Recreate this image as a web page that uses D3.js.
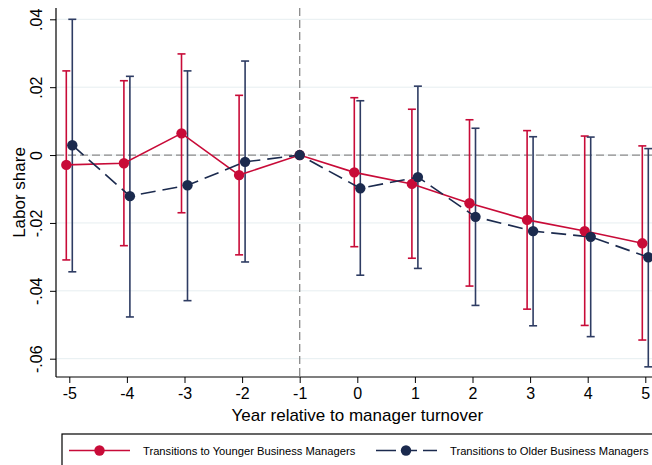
<!DOCTYPE html>
<html>
<head>
<meta charset="utf-8">
<script src="https://cdn.jsdelivr.net/npm/d3@7"></script>
<style>
  html, body { margin: 0; padding: 0; background: #fff; }
  svg { display: block; font-family: "Liberation Sans", Arial, Helvetica, sans-serif; }
</style>
</head>
<body>
<svg id="chart" width="652" height="465"></svg>
<script>
// ---- data ----
const years = [-5, -4, -3, -2, -1, 0, 1, 2, 3, 4, 5];
const youngerEst = [-0.0029, -0.0024, 0.0064, -0.0059, 0, -0.0051, -0.0085, -0.0142, -0.0191, -0.0224, -0.0260];
const youngerLo  = [-0.0309, -0.0267, -0.0170, -0.0294, null, -0.0270, -0.0304, -0.0386, -0.0454, -0.0502, -0.0545];
const youngerHi  = [0.0248, 0.0219, 0.0298, 0.0176, null, 0.0169, 0.0135, 0.0104, 0.0072, 0.0056, 0.0027];
const olderEst = [0.0029, -0.0121, -0.0089, -0.0020, 0, -0.0098, -0.0065, -0.0182, -0.0224, -0.0241, -0.0301];
const olderLo  = [-0.0344, -0.0477, -0.0429, -0.0315, null, -0.0354, -0.0334, -0.0443, -0.0503, -0.0535, -0.0624];
const olderHi  = [0.0400, 0.0232, 0.0248, 0.0277, null, 0.0160, 0.0203, 0.0079, 0.0054, 0.0053, 0.0019];
const yTickValues = [-0.06, -0.04, -0.02, 0, 0.02, 0.04];
const yTickLabels = ["-.06", "-.04", "-.02", "0", ".02", ".04"];
const xTickValues = years;
const seriesNames = ["Transitions to Younger Business Managers", "Transitions to Older Business Managers"];
const xTitle = "Year relative to manager turnover";
const yTitle = "Labor share";

// ---- layout ----
const svg = d3.select("#chart");
const W = 652, H = 465;
const axisX = 56, axisY = 377, plotTop = 8;
const x = d3.scaleLinear().domain([-5, 5]).range([69.3, 645.3]);
const y = d3.scaleLinear().domain([-0.06, 0.04]).range([358.7, 19.3]);
const RED = "#c80b38", NAVY = "#1b2a4e", NAVY_BAR = "#2e3c63";
const offset = 0.052;

// gridlines
svg.append("g").selectAll("line").data(yTickValues).join("line")
  .attr("x1", axisX).attr("x2", W)
  .attr("y1", d => y(d)).attr("y2", d => y(d))
  .attr("stroke", "#e6eef0").attr("stroke-width", 1);

// reference lines
svg.append("line").attr("x1", axisX).attr("x2", W).attr("y1", y(0)).attr("y2", y(0))
  .attr("stroke", "#8a8a8a").attr("stroke-width", 1.3).attr("stroke-dasharray", "8,4");
svg.append("line").attr("x1", x(-1)).attr("x2", x(-1)).attr("y1", plotTop).attr("y2", axisY)
  .attr("stroke", "#8a8a8a").attr("stroke-width", 1.3).attr("stroke-dasharray", "8,4");

// axes
const xAxis = d3.axisBottom(x).tickValues(xTickValues).tickSize(6).tickPadding(5).tickFormat(d3.format("d"));
const gx = svg.append("g").attr("transform", `translate(0,${axisY})`).call(xAxis);
gx.select(".domain").remove();
gx.append("line").attr("x1", axisX).attr("x2", W).attr("stroke", "#000").attr("stroke-width", 1.2);
gx.selectAll(".tick line").attr("stroke", "#000").attr("stroke-width", 1);
gx.selectAll(".tick text").attr("font-size", 16).attr("fill", "#000")
  .text(d => d < 0 ? "-" + Math.abs(d) : String(d));

const yAxis = d3.axisLeft(y).tickValues(yTickValues).tickSize(6)
  .tickFormat((d, i) => yTickLabels[i]);
const gy = svg.append("g").attr("transform", `translate(${axisX},0)`).call(yAxis);
gy.select(".domain").remove();
gy.append("line").attr("y1", plotTop).attr("y2", axisY).attr("stroke", "#000").attr("stroke-width", 1.2);
gy.selectAll(".tick line").attr("stroke", "#000").attr("stroke-width", 1);
gy.selectAll(".tick text").attr("font-size", 16).attr("fill", "#000")
  .attr("transform", "rotate(-90)").attr("x", 0).attr("y", -14).attr("dy", 0)
  .attr("text-anchor", "middle");

// titles
svg.append("text").attr("x", x(0)).attr("y", 421).attr("text-anchor", "middle")
  .attr("font-size", 17).text(xTitle);
svg.append("text").attr("transform", `translate(25,${(plotTop + axisY) / 2}) rotate(-90)`)
  .attr("text-anchor", "middle").attr("font-size", 17).text(yTitle);

// series
const series = [
  { est: youngerEst, lo: youngerLo, hi: youngerHi, dx: -offset, color: RED, bar: RED, dash: null },
  { est: olderEst, lo: olderLo, hi: olderHi, dx: offset, color: NAVY, bar: NAVY_BAR, dash: "15,7" }
];
const capW = 4;

series.forEach(s => {
  const data = years.map((yr, i) => ({ yr, lo: s.lo[i], hi: s.hi[i] })).filter(d => d.lo !== null);
  const g = svg.append("g");
  g.selectAll("line.v").data(data).join("line").attr("class", "v")
    .attr("x1", d => x(d.yr + s.dx)).attr("x2", d => x(d.yr + s.dx))
    .attr("y1", d => y(d.lo)).attr("y2", d => y(d.hi))
    .attr("stroke", s.bar).attr("stroke-width", 1.6);
  ["lo", "hi"].forEach(k => {
    g.selectAll("line.c" + k).data(data).join("line").attr("class", "c" + k)
      .attr("x1", d => x(d.yr + s.dx) - capW).attr("x2", d => x(d.yr + s.dx) + capW)
      .attr("y1", d => y(d[k])).attr("y2", d => y(d[k]))
      .attr("stroke", s.bar).attr("stroke-width", 1.6);
  });
});

series.forEach(s => {
  const pts = years.map((yr, i) => ({ yr: yr === -1 ? yr : yr + s.dx, v: s.est[i] }));
  const line = d3.line().x(d => x(d.yr)).y(d => y(d.v));
  svg.append("path").datum(pts).attr("d", line).attr("fill", "none")
    .attr("stroke", s.color).attr("stroke-width", 1.6)
    .attr("stroke-dasharray", s.dash);
});

series.forEach(s => {
  const pts = years.map((yr, i) => ({ yr: yr === -1 ? yr : yr + s.dx, v: s.est[i] }));
  svg.append("g").selectAll("circle").data(pts).join("circle")
    .attr("cx", d => x(d.yr)).attr("cy", d => y(d.v)).attr("r", 5.2)
    .attr("fill", s.color);
});

// legend
const lg = svg.append("g");
lg.append("rect").attr("x", 62).attr("y", 434).attr("width", 700).attr("height", 60)
  .attr("fill", "#fff").attr("stroke", "#000").attr("stroke-width", 1.2);
const legendItems = [
  { name: seriesNames[0], color: RED, dash: null, x0: 69, x1: 130, mx: 99.5, tx: 143 },
  { name: seriesNames[1], color: NAVY, dash: "20,10,11,6", x0: 376, x1: 437, mx: 406, tx: 450 }
];
legendItems.forEach(it => {
  lg.append("line").attr("x1", it.x0).attr("x2", it.x1).attr("y1", 450.5).attr("y2", 450.5)
    .attr("stroke", it.color).attr("stroke-width", 1.6).attr("stroke-dasharray", it.dash);
  lg.append("circle").attr("cx", it.mx).attr("cy", 450.5).attr("r", 5.2).attr("fill", it.color);
  lg.append("text").attr("x", it.tx).attr("y", 454.5).attr("font-size", 11.2).text(it.name);
});
</script>
</body>
</html>
